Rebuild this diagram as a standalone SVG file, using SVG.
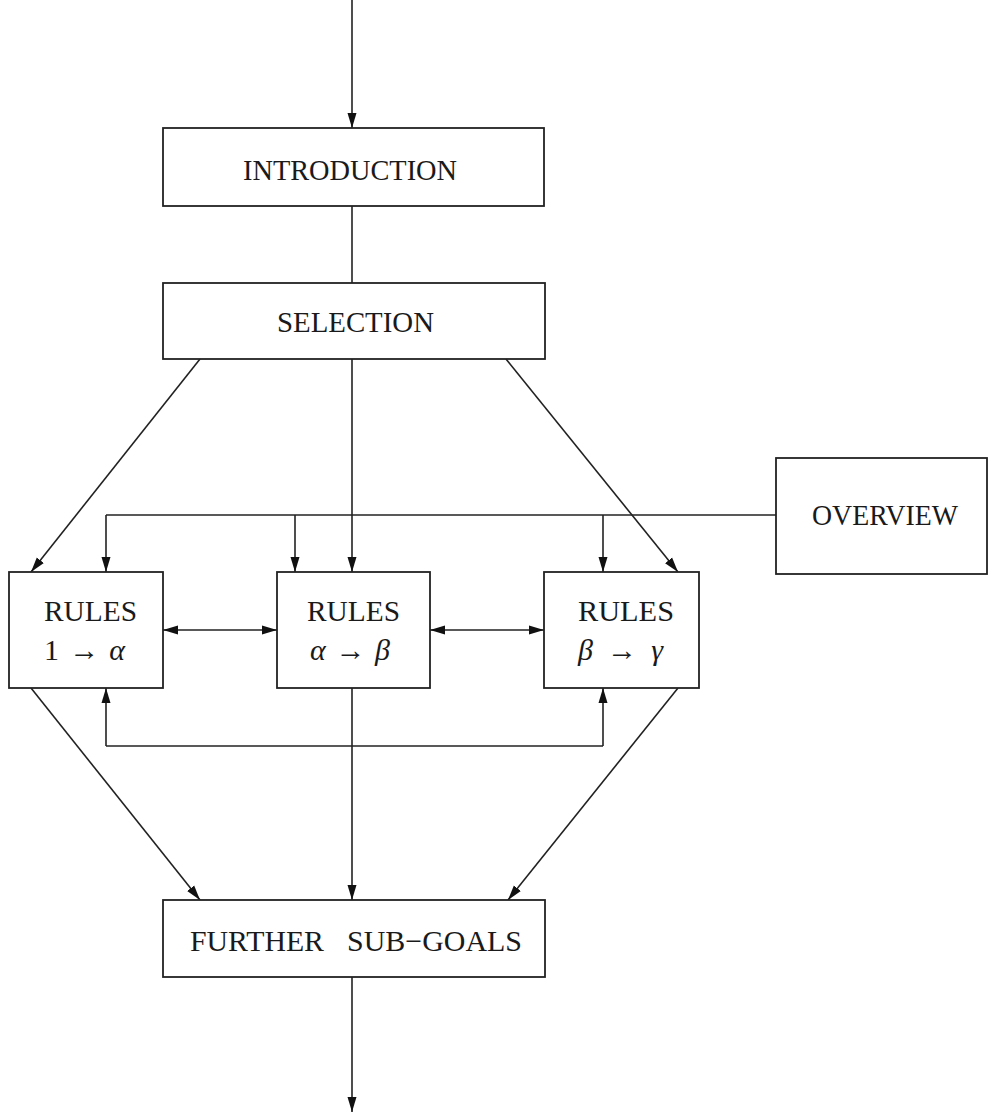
<svg xmlns="http://www.w3.org/2000/svg" width="992" height="1114" viewBox="0 0 992 1114">
  <style>
    .box { fill: #fff; stroke: #222; stroke-width: 1.8; }
    .lbl { font-family: "Liberation Serif", "DejaVu Serif", serif; font-size: 30px; fill: #1a1a1a; }
    .gr { font-style: italic; }
    .ln { fill: none; stroke: #222; stroke-width: 1.6; }
    .arr { marker-end: url(#head); }
    .dbl { marker-start: url(#head); marker-end: url(#head); }
  </style>
  <defs>
    <marker id="head" markerUnits="userSpaceOnUse" markerWidth="16" markerHeight="10" refX="15" refY="5" orient="auto-start-reverse">
      <path d="M0,0.5 L15,5 L0,9.5 z" fill="#111"/>
    </marker>
  </defs>
  <rect width="992" height="1114" fill="#fff"/>

  <g id="connectors">
    <line class="ln arr" x1="352" y1="0" x2="352" y2="128"/>
    <line class="ln" x1="352" y1="206" x2="352" y2="283"/>
    <line class="ln arr" x1="352" y1="359" x2="352" y2="572"/>
    <line class="ln arr" x1="200" y1="359" x2="31" y2="572"/>
    <line class="ln arr" x1="506" y1="359" x2="678" y2="572"/>
    <!-- overview distribution bus -->
    <line class="ln" x1="776" y1="515" x2="106" y2="515"/>
    <line class="ln arr" x1="106" y1="515" x2="106" y2="572"/>
    <line class="ln arr" x1="295" y1="515" x2="295" y2="572"/>
    <line class="ln arr" x1="603" y1="515" x2="603" y2="572"/>
    <!-- links between rule groups -->
    <line class="ln dbl" x1="163" y1="630" x2="277" y2="630"/>
    <line class="ln dbl" x1="430" y1="630" x2="544" y2="630"/>
    <!-- feedback loop below -->
    <line class="ln" x1="106" y1="746" x2="603" y2="746"/>
    <line class="ln arr" x1="106" y1="746" x2="106" y2="688"/>
    <line class="ln arr" x1="603" y1="746" x2="603" y2="688"/>
    <!-- into further sub-goals -->
    <line class="ln arr" x1="31" y1="688" x2="200" y2="900"/>
    <line class="ln arr" x1="352" y1="688" x2="352" y2="900"/>
    <line class="ln arr" x1="678" y1="688" x2="508" y2="900"/>
    <line class="ln arr" x1="352" y1="977" x2="352" y2="1112"/>
  </g>

  <g id="introduction">
    <rect class="box" x="163" y="128" width="381" height="78"/>
    <text class="lbl" x="243" y="180" textLength="214" lengthAdjust="spacingAndGlyphs">INTRODUCTION</text>
  </g>
  <g id="selection">
    <rect class="box" x="163" y="283" width="382" height="76"/>
    <text class="lbl" x="277" y="332" textLength="157" lengthAdjust="spacingAndGlyphs">SELECTION</text>
  </g>
  <g id="overview">
    <rect class="box" x="776" y="458" width="211" height="116"/>
    <text class="lbl" x="812" y="525" textLength="146" lengthAdjust="spacingAndGlyphs">OVERVIEW</text>
  </g>
  <g id="rules-1-alpha">
    <rect class="box" x="9" y="572" width="154" height="116"/>
    <text class="lbl" x="44" y="621" textLength="93" lengthAdjust="spacingAndGlyphs">RULES</text>
    <text class="lbl" x="44" y="660" textLength="81" lengthAdjust="spacing">1 → <tspan class="gr">α</tspan></text>
  </g>
  <g id="rules-alpha-beta">
    <rect class="box" x="277" y="572" width="153" height="116"/>
    <text class="lbl" x="307" y="621" textLength="93" lengthAdjust="spacingAndGlyphs">RULES</text>
    <text class="lbl" x="310" y="660" textLength="80" lengthAdjust="spacing"><tspan class="gr">α</tspan>→<tspan class="gr">β</tspan></text>
  </g>
  <g id="rules-beta-gamma">
    <rect class="box" x="544" y="572" width="155" height="116"/>
    <text class="lbl" x="578" y="621" textLength="96" lengthAdjust="spacingAndGlyphs">RULES</text>
    <text class="lbl" x="578" y="660" textLength="85" lengthAdjust="spacing"><tspan class="gr">β</tspan> → <tspan class="gr">γ</tspan></text>
  </g>
  <g id="further-sub-goals">
    <rect class="box" x="163" y="900" width="382" height="77"/>
    <text class="lbl" y="951"><tspan x="190" textLength="134" lengthAdjust="spacingAndGlyphs">FURTHER</tspan> <tspan x="347" textLength="175" lengthAdjust="spacingAndGlyphs">SUB−GOALS</tspan></text>
  </g>
</svg>
